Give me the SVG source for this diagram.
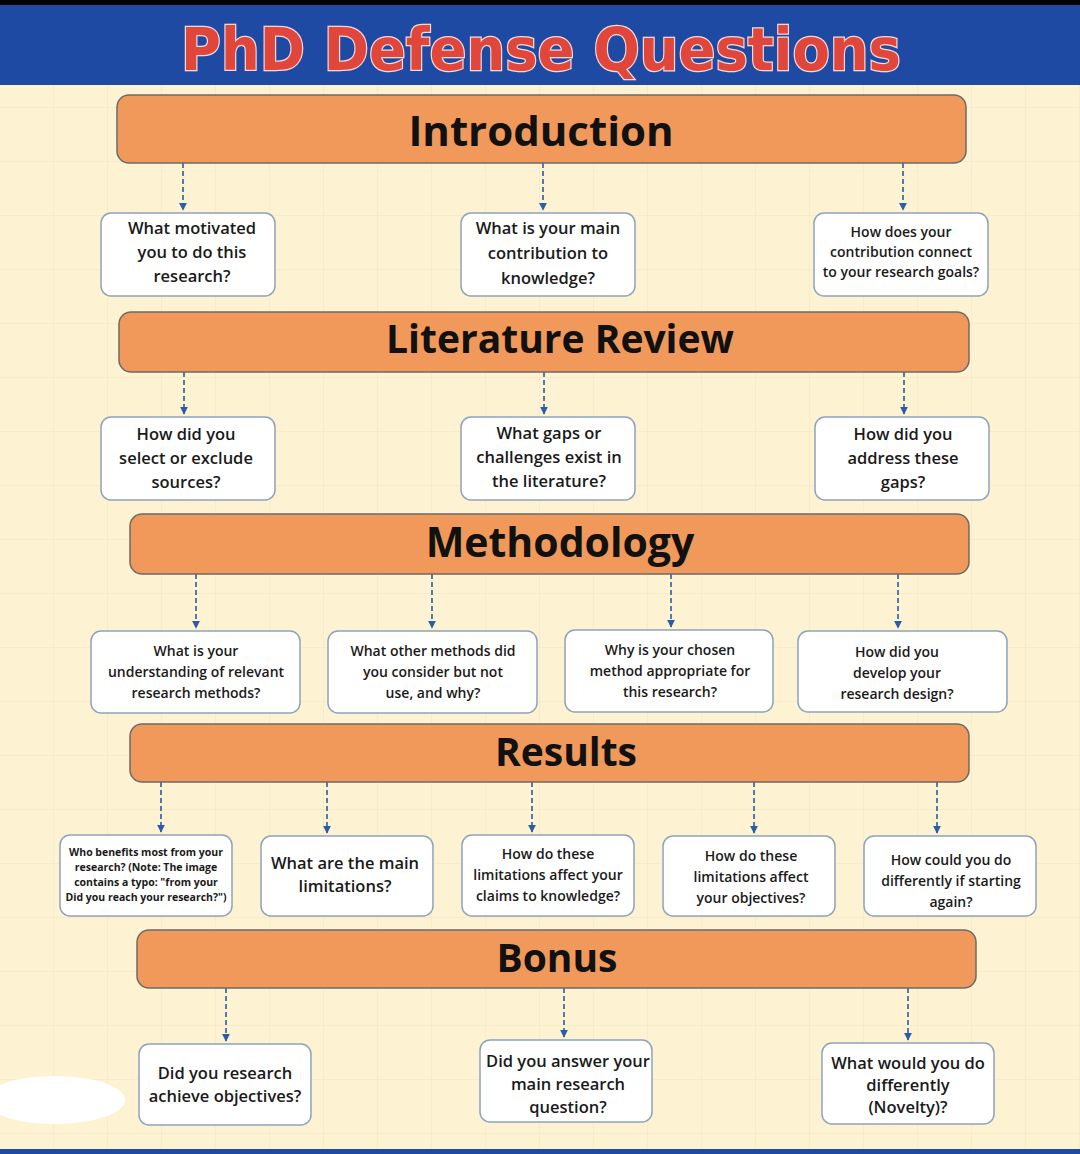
<svg xmlns="http://www.w3.org/2000/svg" width="1080" height="1154" viewBox="0 0 1080 1154">
<defs>
<pattern id="grid" width="54" height="54" patternUnits="userSpaceOnUse"><path d="M54 0V54H0" fill="none" stroke="#efe4c2" stroke-width="1"/></pattern>
<marker id="ah" viewBox="0 0 10 10" refX="9" refY="5" markerWidth="5" markerHeight="5" orient="auto"><path d="M0 0L10 5L0 10Z" fill="#2a5ca8"/></marker>
<style>
.bar{fill:#f0995a;stroke:#6b6b6b;stroke-width:1.5}
.bt{font-family:"Open Sans","Liberation Sans",sans-serif;font-weight:700;fill:#111;text-anchor:middle}
.box{fill:#fff;stroke:#8ea3bb;stroke-width:1.5}
.q{font-family:"Open Sans","Liberation Sans",sans-serif;font-weight:600;fill:#1a1a1a;text-anchor:middle;font-size:16.5px}
.s{font-size:14px}
.xs{font-size:10.5px;font-weight:700}
.c{stroke:#2a5ca8;stroke-width:1.6;stroke-dasharray:5 3;fill:none}
</style>
</defs>
<rect width="1080" height="1154" fill="#fdf3d2"/>
<rect width="1080" height="1154" fill="url(#grid)"/>
<rect x="0" y="0" width="1080" height="85" fill="#1f4aa3"/>
<rect x="0" y="0" width="1080" height="5" fill="#000"/>
<rect x="0" y="1149" width="1080" height="5" fill="#1f4aa3"/>
<text x="541" y="70" text-anchor="middle" font-family="DejaVu Sans,sans-serif" font-weight="700" font-size="58" textLength="720" lengthAdjust="spacingAndGlyphs" fill="#e0463a" stroke="#f3dada" stroke-width="2.5" paint-order="stroke">PhD Defense Questions</text>
<ellipse cx="55" cy="1100" rx="70" ry="24" fill="#fff"/>

<g id="connectors">
<line class="c" x1="183" y1="163" x2="183" y2="210" marker-end="url(#ah)"/>
<line class="c" x1="543" y1="163" x2="543" y2="210" marker-end="url(#ah)"/>
<line class="c" x1="903" y1="163" x2="903" y2="210" marker-end="url(#ah)"/>
<line class="c" x1="184" y1="372" x2="184" y2="414" marker-end="url(#ah)"/>
<line class="c" x1="544" y1="372" x2="544" y2="414" marker-end="url(#ah)"/>
<line class="c" x1="904" y1="372" x2="904" y2="414" marker-end="url(#ah)"/>
<line class="c" x1="196" y1="574" x2="196" y2="628" marker-end="url(#ah)"/>
<line class="c" x1="432" y1="574" x2="432" y2="628" marker-end="url(#ah)"/>
<line class="c" x1="671" y1="574" x2="671" y2="627" marker-end="url(#ah)"/>
<line class="c" x1="898" y1="574" x2="898" y2="628" marker-end="url(#ah)"/>
<line class="c" x1="161" y1="782" x2="161" y2="832" marker-end="url(#ah)"/>
<line class="c" x1="327" y1="782" x2="327" y2="833" marker-end="url(#ah)"/>
<line class="c" x1="532" y1="782" x2="532" y2="832" marker-end="url(#ah)"/>
<line class="c" x1="754" y1="782" x2="754" y2="833" marker-end="url(#ah)"/>
<line class="c" x1="937" y1="782" x2="937" y2="833" marker-end="url(#ah)"/>
<line class="c" x1="226" y1="988" x2="226" y2="1041" marker-end="url(#ah)"/>
<line class="c" x1="564" y1="988" x2="564" y2="1037" marker-end="url(#ah)"/>
<line class="c" x1="908" y1="988" x2="908" y2="1040" marker-end="url(#ah)"/>
</g>

<g id="intro"><rect class="bar" x="117" y="95" width="849" height="68" rx="12"/><text class="bt" x="541" y="146" font-size="42">Introduction</text></g>
<g id="lit"><rect class="bar" x="119" y="312" width="850" height="60" rx="12"/><text class="bt" x="560" y="353" font-size="39">Literature Review</text></g>
<g id="meth"><rect class="bar" x="130" y="514" width="839" height="60" rx="12"/><text class="bt" x="560" y="557" font-size="41">Methodology</text></g>
<g id="res"><rect class="bar" x="130" y="724" width="839" height="58" rx="12"/><text class="bt" x="566" y="766" font-size="39">Results</text></g>
<g id="bonus"><rect class="bar" x="137" y="930" width="839" height="58" rx="12"/><text class="bt" x="557" y="972" font-size="39">Bonus</text></g>

<g id="i1"><rect class="box" x="101" y="213" width="174" height="83" rx="10"/><text class="q" x="192" y="234"><tspan x="192" dy="0">What motivated</tspan><tspan x="192" dy="24">you to do this</tspan><tspan x="192" dy="24">research?</tspan></text></g>
<g id="i2"><rect class="box" x="461" y="213" width="174" height="83" rx="10"/><text class="q" x="548" y="234"><tspan x="548" dy="0">What is your main</tspan><tspan x="548" dy="25">contribution to</tspan><tspan x="548" dy="25">knowledge?</tspan></text></g>
<g id="i3"><rect class="box" x="814" y="213" width="174" height="83" rx="10"/><text class="q s" x="901" y="237"><tspan x="901" dy="0">How does your</tspan><tspan x="901" dy="20">contribution connect</tspan><tspan x="901" dy="20">to your research goals?</tspan></text></g>

<g id="l1"><rect class="box" x="101" y="417" width="174" height="83" rx="10"/><text class="q" x="186" y="440"><tspan x="186" dy="0">How did you</tspan><tspan x="186" dy="24">select or exclude</tspan><tspan x="186" dy="24">sources?</tspan></text></g>
<g id="l2"><rect class="box" x="461" y="417" width="174" height="83" rx="10"/><text class="q" x="549" y="439"><tspan x="549" dy="0">What gaps or</tspan><tspan x="549" dy="24">challenges exist in</tspan><tspan x="549" dy="24">the literature?</tspan></text></g>
<g id="l3"><rect class="box" x="815" y="417" width="174" height="83" rx="10"/><text class="q" x="903" y="440"><tspan x="903" dy="0">How did you</tspan><tspan x="903" dy="24">address these</tspan><tspan x="903" dy="24">gaps?</tspan></text></g>

<g id="m1"><rect class="box" x="91" y="631" width="209" height="82" rx="10"/><text class="q s" x="196" y="656" font-size="15"><tspan x="196" dy="0">What is your</tspan><tspan x="196" dy="21">understanding of relevant</tspan><tspan x="196" dy="21">research methods?</tspan></text></g>
<g id="m2"><rect class="box" x="328" y="631" width="209" height="82" rx="10"/><text class="q s" x="433" y="656" font-size="15"><tspan x="433" dy="0">What other methods did</tspan><tspan x="433" dy="21">you consider but not</tspan><tspan x="433" dy="21">use, and why?</tspan></text></g>
<g id="m3"><rect class="box" x="565" y="630" width="208" height="82" rx="10"/><text class="q s" x="670" y="655" font-size="15"><tspan x="670" dy="0">Why is your chosen</tspan><tspan x="670" dy="21">method appropriate for</tspan><tspan x="670" dy="21">this research?</tspan></text></g>
<g id="m4"><rect class="box" x="798" y="631" width="209" height="81" rx="10"/><text class="q s" x="897" y="657" font-size="15"><tspan x="897" dy="0">How did you</tspan><tspan x="897" dy="21">develop your</tspan><tspan x="897" dy="21">research design?</tspan></text></g>

<g id="r1"><rect class="box" x="60" y="835" width="172" height="81" rx="10"/><text class="q xs" x="146" y="856"><tspan x="146" dy="0">Who benefits most from your</tspan><tspan x="146" dy="15">research? (Note: The image</tspan><tspan x="146" dy="15">contains a typo: "from your</tspan><tspan x="146" dy="15">Did you reach your research?")</tspan></text></g>
<g id="r2"><rect class="box" x="261" y="836" width="172" height="80" rx="10"/><text class="q" x="345" y="869"><tspan x="345" dy="0">What are the main</tspan><tspan x="345" dy="23">limitations?</tspan></text></g>
<g id="r3"><rect class="box" x="462" y="835" width="172" height="81" rx="10"/><text class="q s" x="548" y="859" font-size="15"><tspan x="548" dy="0">How do these</tspan><tspan x="548" dy="21">limitations affect your</tspan><tspan x="548" dy="21">claims to knowledge?</tspan></text></g>
<g id="r4"><rect class="box" x="663" y="836" width="172" height="80" rx="10"/><text class="q s" x="751" y="861" font-size="15"><tspan x="751" dy="0">How do these</tspan><tspan x="751" dy="21">limitations affect</tspan><tspan x="751" dy="21">your objectives?</tspan></text></g>
<g id="r5"><rect class="box" x="864" y="836" width="172" height="80" rx="10"/><text class="q s" x="951" y="865" font-size="15"><tspan x="951" dy="0">How could you do</tspan><tspan x="951" dy="21">differently if starting</tspan><tspan x="951" dy="21">again?</tspan></text></g>

<g id="b1"><rect class="box" x="139" y="1044" width="172" height="81" rx="10"/><text class="q" x="225" y="1079"><tspan x="225" dy="0">Did you research</tspan><tspan x="225" dy="23">achieve objectives?</tspan></text></g>
<g id="b2"><rect class="box" x="480" y="1040" width="172" height="82" rx="10"/><text class="q" x="568" y="1067"><tspan x="568" dy="0">Did you answer your</tspan><tspan x="568" dy="23">main research</tspan><tspan x="568" dy="23">question?</tspan></text></g>
<g id="b3"><rect class="box" x="822" y="1043" width="172" height="81" rx="10"/><text class="q" x="908" y="1069"><tspan x="908" dy="0">What would you do</tspan><tspan x="908" dy="22">differently</tspan><tspan x="908" dy="22">(Novelty)?</tspan></text></g>
</svg>
